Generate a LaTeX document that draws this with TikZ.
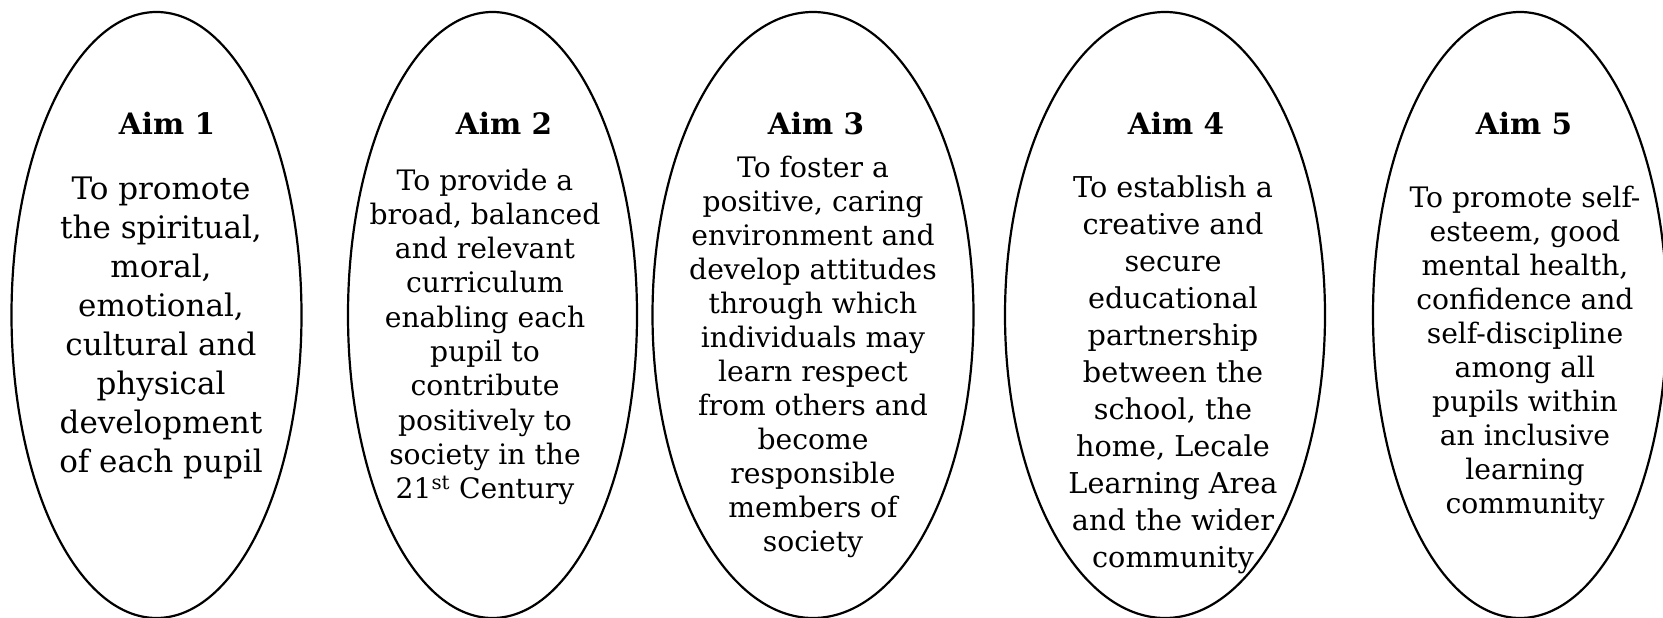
\documentclass[tikz,border=0pt]{standalone}
\usepackage{fontspec}
\setmainfont{DejaVu Serif}
\usetikzlibrary{shapes.geometric}
\begin{document}
\begin{tikzpicture}[x=1pt,y=-1pt,
  aimshape/.style={ellipse,draw,line width=2.2pt,inner sep=0pt,minimum height=606pt},
  aimtitle/.style={anchor=base,inner sep=0pt,font=\fontsize{29.5}{34}\selectfont\bfseries},
  aimtext/.style={anchor=base,inner sep=0pt,align=center}]
\useasboundingbox (0,0) rectangle (1663,618);
\node[aimshape,minimum width=290pt] (e1) at (156.5,315) {};
\node[aimshape,minimum width=289pt] (e2) at (492.5,315) {};
\node[aimshape,minimum width=321pt] (e3) at (813,315) {};
\node[aimshape,minimum width=320pt] (e4) at (1165,315) {};
\node[aimshape,minimum width=294pt] (e5) at (1520,315) {};
\node[aimtitle] (h1) at (167,134) {Aim 1};
\node[aimtitle] (h2) at (504,134) {Aim 2};
\node[aimtitle] (h3) at (816,134) {Aim 3};
\node[aimtitle] (h4) at (1176,134) {Aim 4};
\node[aimtitle] (h5) at (1524,134) {Aim 5};
% base anchor = baseline of the last line
\node[aimtext,font=\fontsize{31}{39.1}\selectfont] (t1) at (161,472.7) {To promote\\the spiritual,\\moral,\\emotional,\\cultural and\\physical\\development\\of each pupil};
\node[aimtext,font=\fontsize{28.2}{34.3}\selectfont] (t2) at (485,498.7) {To provide a\\broad, balanced\\and relevant\\curriculum\\enabling each\\pupil to\\contribute\\positively to\\society in the\\21\textsuperscript{st} Century};
\node[aimtext,font=\fontsize{28.2}{34.04}\selectfont] (t3) at (813,551.8) {To foster a\\positive, caring\\environment and\\develop attitudes\\through which\\individuals may\\learn respect\\from others and\\become\\responsible\\members of\\society};
\node[aimtext,font=\fontsize{28.7}{37.06}\selectfont] (t4) at (1173,567.6) {To establish a\\creative and\\secure\\educational\\partnership\\between the\\school, the\\home, Lecale\\Learning Area\\and the wider\\community};
\node[aimtext,font=\fontsize{28.2}{34.0}\selectfont] (t5) at (1525,513) {To promote self-\\esteem, good\\mental health,\\confidence and\\self-discipline\\among all\\pupils within\\an inclusive\\learning\\community};
\end{tikzpicture}
\end{document}
